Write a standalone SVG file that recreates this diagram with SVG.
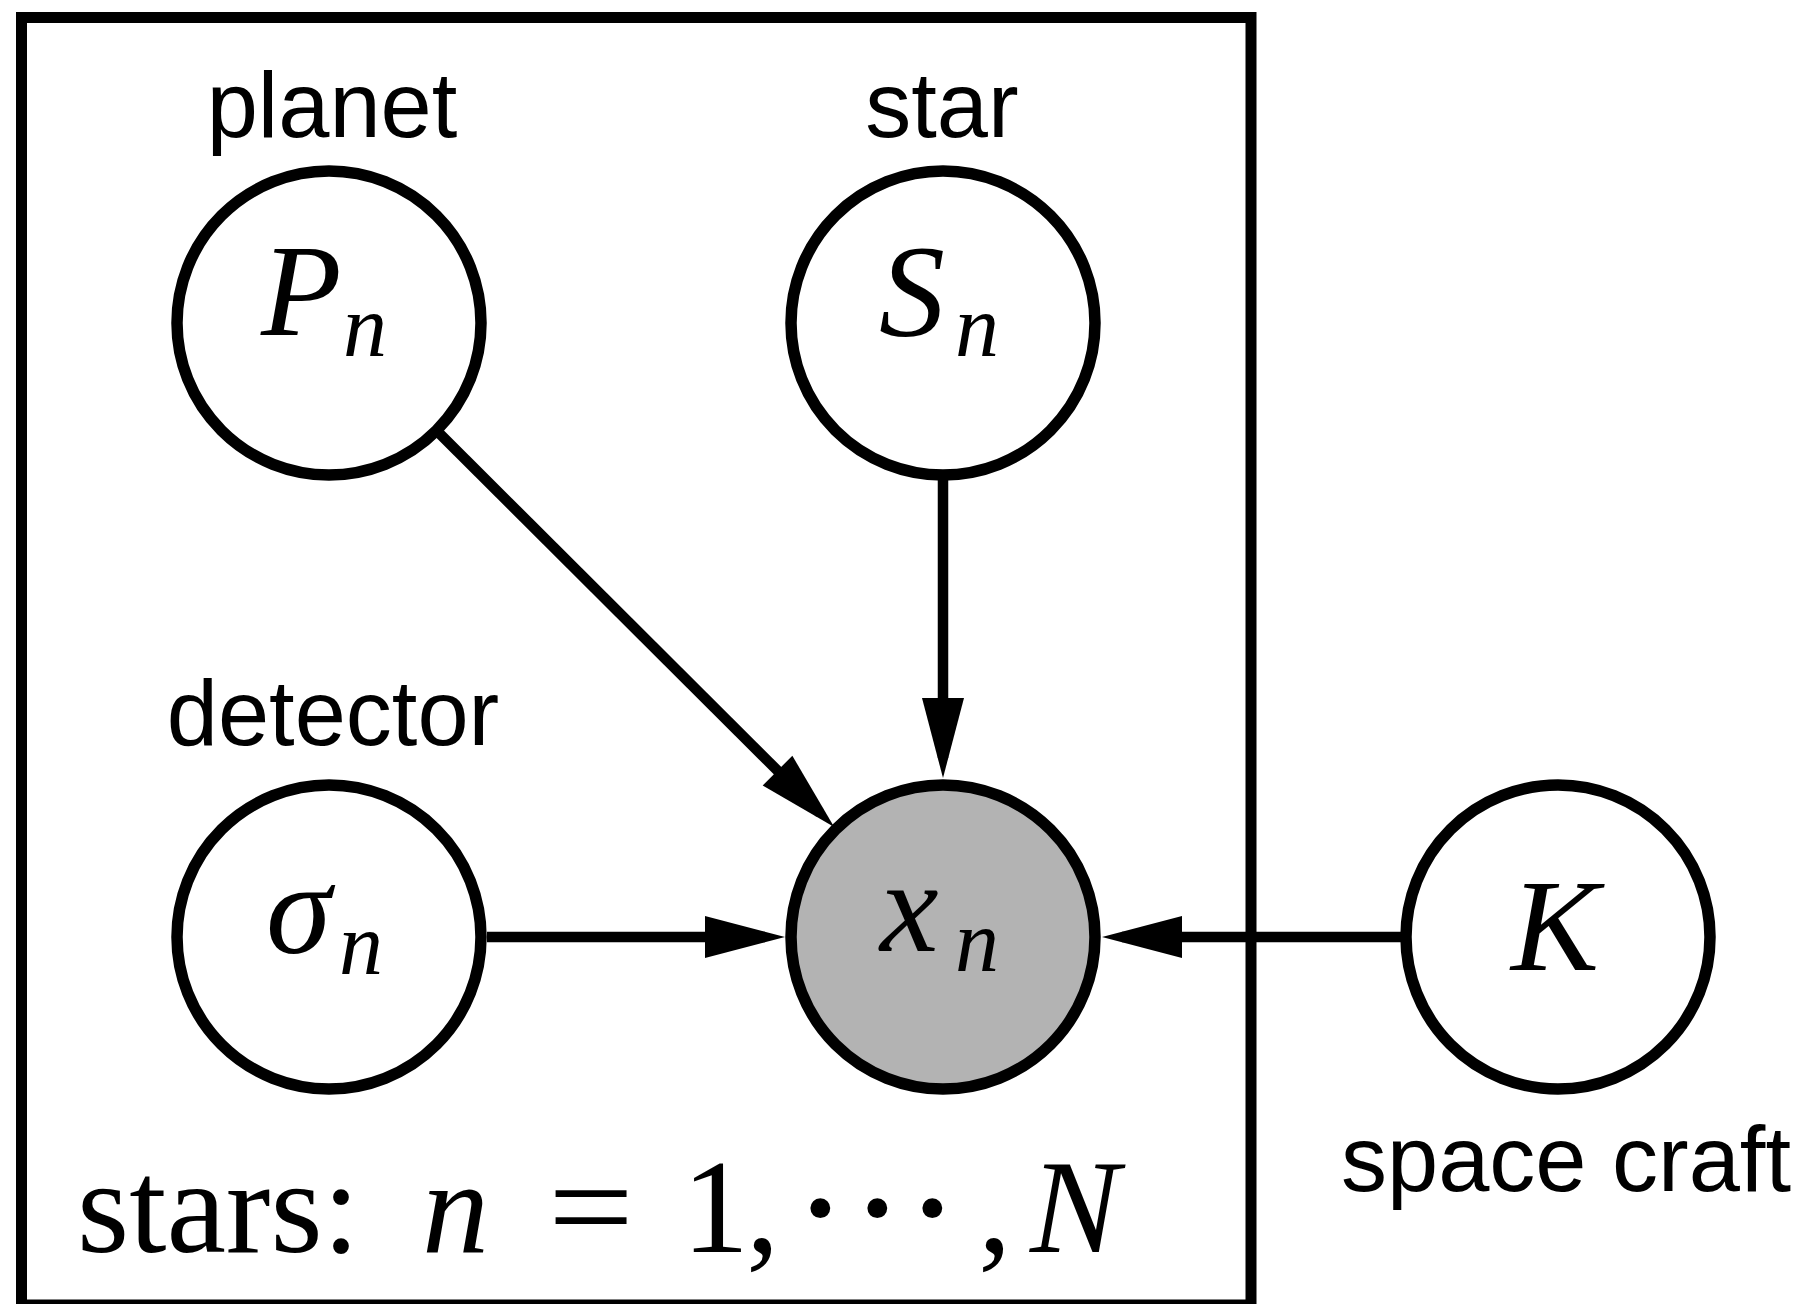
<svg xmlns="http://www.w3.org/2000/svg" width="1810" height="1304" viewBox="0 0 1810 1304">
  <style>
    .plate { fill: none; stroke: #000; stroke-width: 11; }
    .node { fill: #fff; stroke: #000; stroke-width: 11.5; }
    .obs { fill: #b3b3b3; stroke: #000; stroke-width: 11.5; }
    .edge { stroke: #000; stroke-width: 10.5; fill: none; }
    .lbl { font-family: "Liberation Sans", Arial, Helvetica, sans-serif; font-size: 92px; fill: #000; text-anchor: middle; }
    .math { font-family: "Liberation Serif", "Times New Roman", serif; font-style: italic; fill: #000; }
    .big { font-size: 132px; }
    .sub { font-size: 88px; }
    .rm { font-family: "Liberation Serif", "Times New Roman", serif; fill: #000; font-size: 134px; }
    .dot { stroke: #000; stroke-width: 4; }
  </style>
  <defs>
    <marker id="arrow" markerUnits="userSpaceOnUse" markerWidth="82" markerHeight="44" viewBox="0 0 82 44" refX="61" refY="22" orient="auto">
      <path d="M1,1 L81,22 L1,43 z" fill="#000"/>
    </marker>
  </defs>

  <rect id="plate" class="plate" x="21.5" y="17.5" width="1229.5" height="1287.5"/>

  <g id="connectors">
    <line id="e-P-x" class="edge" x1="440" y1="434" x2="820" y2="813" marker-end="url(#arrow)"/>
    <line id="e-S-x" class="edge" x1="943" y1="480" x2="943" y2="758" marker-end="url(#arrow)"/>
    <line id="e-sigma-x" class="edge" x1="487" y1="937" x2="765" y2="937" marker-end="url(#arrow)"/>
    <line id="e-K-x" class="edge" x1="1401" y1="937" x2="1122" y2="937" marker-end="url(#arrow)"/>
  </g>

  <g id="node-P">
    <circle class="node" cx="329" cy="323" r="152"/>
    <text class="lbl" x="332" y="137">planet</text>
    <text class="math big" x="261" y="335">P</text>
    <text class="math sub" x="343" y="356">n</text>
  </g>

  <g id="node-S">
    <circle class="node" cx="943" cy="323" r="152"/>
    <text class="lbl" x="942" y="137">star</text>
    <text class="math big" x="879" y="336">S</text>
    <text class="math sub" x="955" y="356">n</text>
  </g>

  <g id="node-sigma">
    <circle class="node" cx="329" cy="937" r="152"/>
    <text class="lbl" x="333" y="745">detector</text>
    <text class="math big" x="266" y="953">σ</text>
    <text class="math sub" x="339" y="974">n</text>
  </g>

  <g id="node-x">
    <circle class="obs" cx="943" cy="937" r="152"/>
    <text class="math big" x="880" y="951">x</text>
    <text class="math sub" x="955" y="971">n</text>
  </g>

  <g id="node-K">
    <circle class="node" cx="1558" cy="937" r="152"/>
    <text class="math big" x="1511" y="970">K</text>
    <text class="lbl" x="1566" y="1191">space craft</text>
  </g>

  <g id="plate-label">
    <text class="rm" y="1252"><tspan x="77">stars:</tspan><tspan x="422" font-style="italic">n</tspan><tspan x="548" textLength="86" lengthAdjust="spacingAndGlyphs">=</tspan><tspan x="682">1</tspan><tspan x="746">,</tspan><tspan class="dot" x="798">·</tspan><tspan class="dot" x="855">·</tspan><tspan class="dot" x="910">·</tspan><tspan x="978">,</tspan><tspan x="1030" font-style="italic">N</tspan></text>
  </g>
</svg>
